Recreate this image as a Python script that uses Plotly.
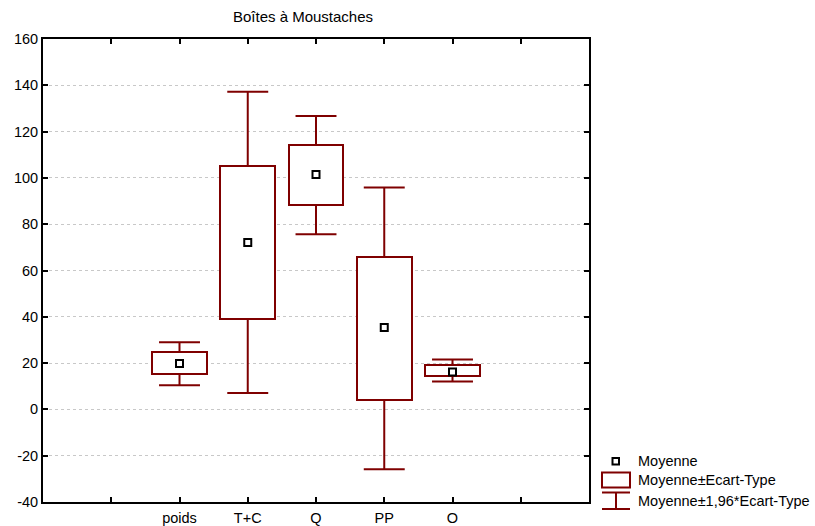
import plotly.graph_objects as go

categories = ["poids", "T+C", "Q", "PP", "O"]
means = [19.8, 72.1, 101.5, 35.4, 16.2]
box_lo = [15.1, 39.0, 88.1, 4.0, 14.5]
box_hi = [24.6, 105.2, 114.0, 65.7, 19.1]
whisk_lo = [10.4, 7.1, 75.7, -25.8, 12.1]
whisk_hi = [29.0, 137.2, 126.7, 95.8, 21.6]
y_ticks = [-40, -20, 0, 20, 40, 60, 80, 100, 120, 140, 160]
y_ticktext = ["-40", "-20", "0", "20", "40", "60", "80", "100", "120", "140", "160"]

RED = "#7f0000"
FONT = "Liberation Sans, Arial, sans-serif"
xpos = list(range(1, len(categories) + 1))

# plot area in pixels
L, R, T, B = 43, 589, 39, 502
W, H = 815, 526
pw, ph = R - L, B - T


def px(x):
    return (x - L) / pw


def py(y):
    return (B - y) / ph


fig = go.Figure()

# boxes: mean +- SD
fig.add_trace(go.Bar(
    x=xpos, y=[h - l for h, l in zip(box_hi, box_lo)], base=box_lo,
    width=0.8, marker=dict(color="white", line=dict(color=RED, width=2)),
    hoverinfo="skip", showlegend=False))

# whiskers: mean +- 1.96*SD
cap = 0.3
wx, wy = [], []
for x, lo, hi, wl, wh in zip(xpos, box_lo, box_hi, whisk_lo, whisk_hi):
    wx += [x, x, None, x - cap, x + cap, None, x, x, None, x - cap, x + cap, None]
    wy += [hi, wh, None, wh, wh, None, lo, wl, None, wl, wl, None]
fig.add_trace(go.Scatter(x=wx, y=wy, mode="lines", line=dict(color=RED, width=2),
                         hoverinfo="skip", showlegend=False))

# means
fig.add_trace(go.Scatter(x=xpos, y=means, mode="markers",
                         marker=dict(symbol="square", size=7, color="white",
                                     line=dict(color="black", width=2)),
                         showlegend=False))

fig.update_layout(
    width=W, height=H,
    margin=dict(l=L, r=W - R, t=T, b=H - B, pad=0, autoexpand=False),
    paper_bgcolor="white", plot_bgcolor="white",
    font=dict(family=FONT, size=14.5, color="black"),
    title=dict(text="Boîtes à Moustaches", font=dict(family=FONT, size=15, color="black"),
               x=px(303), xref="paper", xanchor="center",
               y=1 - 17 / H, yref="container", yanchor="middle", automargin=False),
    xaxis=dict(range=[-1, 7], tickvals=[0, 1, 2, 3, 4, 5, 6],
               ticktext=[""] + categories + [""], automargin=False,
               showgrid=False, zeroline=False, ticklabelstandoff=2,
               showline=True, linecolor="black", linewidth=2, mirror="ticks",
               ticks="inside", ticklen=5, tickwidth=2, tickcolor="black"),
    yaxis=dict(range=[-40, 160], tickvals=y_ticks, ticktext=y_ticktext, automargin=False,
               showgrid=True, gridcolor="#c8c8c8", griddash="dot", gridwidth=1,
               zeroline=False,
               showline=True, linecolor="black", linewidth=2, mirror="ticks",
               ticks="inside", ticklen=5, tickwidth=2, tickcolor="black"),
    bargap=0, showlegend=False,
)

# custom legend
shapes = []
# mean marker icon
shapes.append(dict(type="rect", xref="paper", yref="paper",
                   x0=px(612.5), x1=px(619), y0=py(464.5), y1=py(458),
                   line=dict(color="black", width=2), fillcolor="white"))
# box icon
shapes.append(dict(type="rect", xref="paper", yref="paper",
                   x0=px(602), x1=px(630), y0=py(487.5), y1=py(472.5),
                   line=dict(color=RED, width=2), fillcolor="white"))
# whisker icon
shapes.append(dict(type="line", xref="paper", yref="paper",
                   x0=px(602), x1=px(630), y0=py(492.5), y1=py(492.5),
                   line=dict(color=RED, width=2)))
shapes.append(dict(type="line", xref="paper", yref="paper",
                   x0=px(616), x1=px(616), y0=py(492.5), y1=py(509),
                   line=dict(color=RED, width=2)))
shapes.append(dict(type="line", xref="paper", yref="paper",
                   x0=px(602), x1=px(630), y0=py(509), y1=py(509),
                   line=dict(color=RED, width=2)))
fig.update_layout(shapes=shapes)

legend_texts = ["Moyenne", "Moyenne±Ecart-Type", "Moyenne±1,96*Ecart-Type"]
legend_y = [461, 480, 501]
for t, yy in zip(legend_texts, legend_y):
    fig.add_annotation(text=t, xref="paper", yref="paper", x=px(636), y=py(yy),
                       xanchor="left", yanchor="middle", showarrow=False,
                       font=dict(family=FONT, size=14.5, color="black"))

fig.write_html("out.html", config={"displayModeBar": False},
               post_script="document.body.style.margin='0px';document.body.style.overflow='hidden';")
